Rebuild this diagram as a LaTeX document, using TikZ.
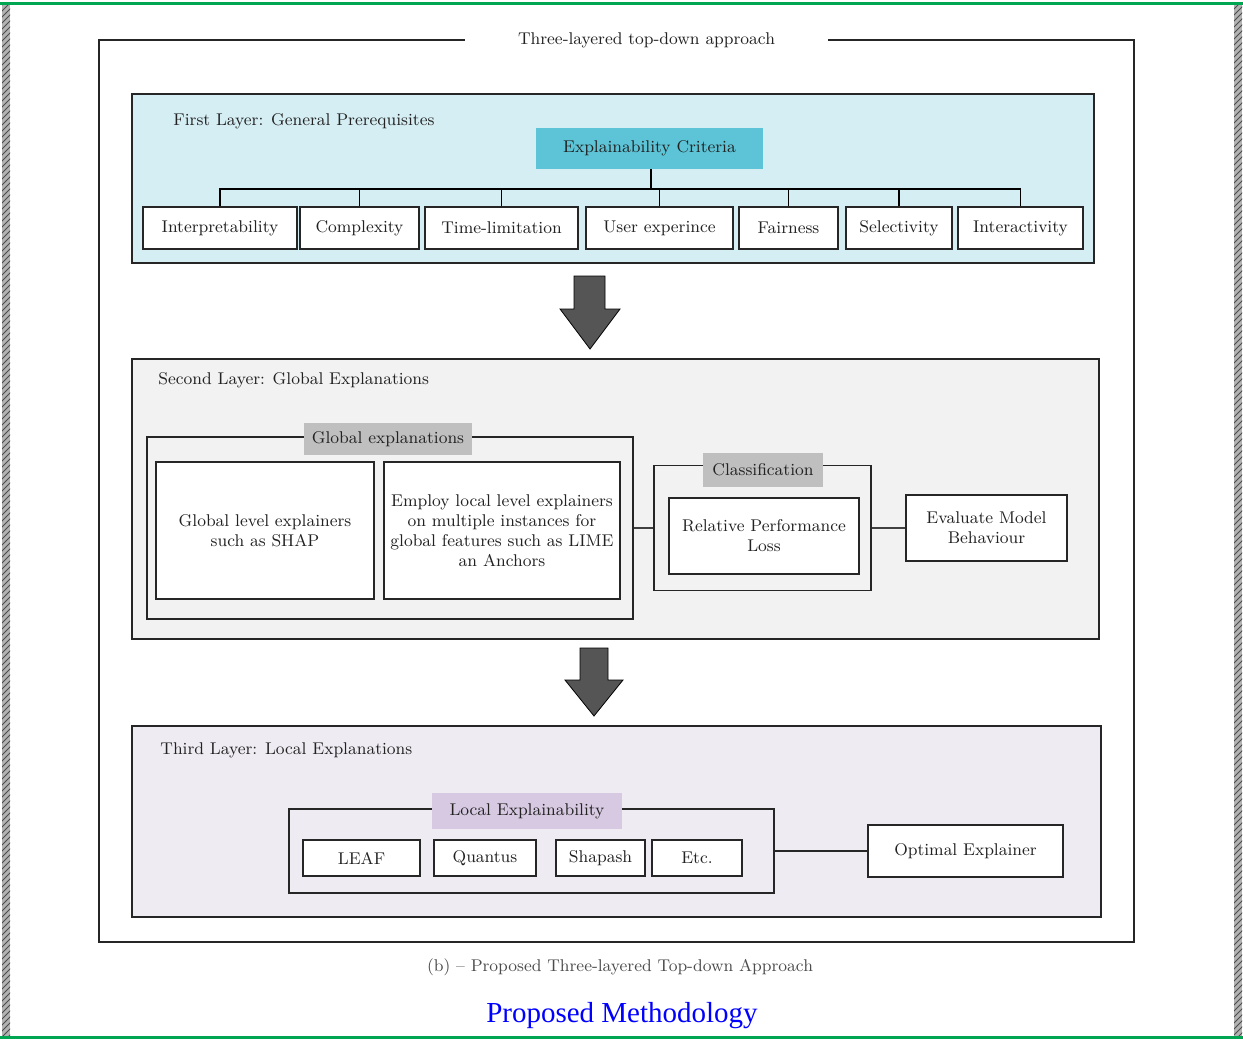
\documentclass[tikz,border=0pt]{standalone}
\usepackage{fontspec}
\newfontfamily\timesfont{Liberation Serif}
\usepackage{tikz}
\usetikzlibrary{patterns}

\definecolor{layerone}{HTML}{D5EEF3}
\definecolor{critfill}{HTML}{5CC4D6}
\definecolor{layertwo}{HTML}{F2F2F2}
\definecolor{tagfill}{HTML}{BFBFBF}
\definecolor{layerthree}{HTML}{EFEBF2}
\definecolor{localfill}{HTML}{D6C9E1}
\definecolor{inkgray}{HTML}{222222}
\definecolor{framegreen}{HTML}{00A651}
\definecolor{arrowgray}{HTML}{555555}

\tikzset{
  txt/.style={font=\fontsize{8.5}{10}\selectfont, text=inkgray},
  box/.style={txt, draw=black!85, line width=0.75pt, fill=white, align=center, inner sep=1pt},
  crit/.style={box, minimum height=21pt},
  tag/.style={txt, inner sep=0pt, align=center},
  group/.style={draw=black!85, line width=0.75pt, inner sep=0pt},
  layer/.style={draw=black!85, line width=0.8pt},
  blockarrow/.style={fill=arrowgray},
  hatchstrip/.style={fill=black!30, postaction={pattern=north east lines, pattern color=black!70}},
}

\begin{document}
\begin{tikzpicture}[x=0.5pt, y=-0.5pt]

  \useasboundingbox (0,0) rectangle (1243,1039);

  % page edges
  \fill[hatchstrip] (2,4) rectangle (10,1036);
  \fill[hatchstrip] (1234,4) rectangle (1242,1036);
  \draw[framegreen, line width=1.5pt] (0,3) -- (1243,3);
  \draw[framegreen, line width=1.5pt] (0,1037) -- (1243,1037);

  % outer frame with its title
  \node[txt, minimum width=181.5pt, minimum height=10pt, inner sep=0pt] (title) at (646.5,40) {Three-layered top-down approach};
  \draw[line width=0.8pt, black!85] (title.west) -| (99,942) -| (1134,40) -- (title.east);

  %% first layer
  \draw[layer, fill=layerone] (132,94) rectangle (1094,263);
  \node[txt, anchor=west, inner sep=0pt] (firstlbl) at (173,121) {First Layer: General Prerequisites};
  \node[txt, fill=critfill, minimum width=113.5pt, minimum height=20.5pt, inner sep=0pt] (criteria) at (649.5,148.5) {Explainability Criteria};

  \node[crit, minimum width=77pt]   (interp)   at (220,228)    {Interpretability};
  \node[crit, minimum width=59.5pt] (complex)  at (359.5,228)  {Complexity};
  \node[crit, minimum width=76.5pt] (timelim)  at (501.5,228)  {Time-limitation};
  \node[crit, minimum width=73.5pt] (userexp)  at (659.5,228)  {User experince};
  \node[crit, minimum width=49.5pt] (fair)     at (788.5,228)  {Fairness};
  \node[crit, minimum width=53pt]   (select)   at (899,228)    {Selectivity};
  \node[crit, minimum width=62.5pt] (interact) at (1020.5,228) {Interactivity};

  \coordinate (bus) at (651,189);
  \draw[line width=0.8pt] (criteria.south -| bus) -- (bus);
  \foreach \n in {interp,complex,timelim,userexp,fair,select,interact}
    \draw[line width=0.8pt] (\n.north) |- (bus);

  \draw[blockarrow] (574,276) -- (605,276) -- (605,309) -- (620,309) -- (590,349) -- (560,309) -- (574,309) -- cycle;

  %% second layer
  \draw[layer, fill=layertwo] (132,359) rectangle (1099,639);
  \node[txt, anchor=west, inner sep=0pt] (secondlbl) at (158,380) {Second Layer: Global Explanations};

  \node[group, minimum width=243pt, minimum height=91pt] (globgrp) at (390,528) {};
  \node[tag, fill=tagfill, minimum width=84pt, minimum height=16pt] (globlbl) at (388,439) {Global explanations};
  \node[box, minimum width=109pt, minimum height=68.5pt] (globa) at (265,530.5) {Global level explainers\\such as SHAP};
  \node[box, minimum width=118pt, minimum height=68.5pt] (globb) at (502,530.5) {Employ local level explainers\\on multiple instances for\\global features such as LIME\\an Anchors};

  \node[group, minimum width=108.5pt, minimum height=62.5pt] (clsgrp) at (762.5,528) {};
  \node[tag, fill=tagfill, minimum width=60pt, minimum height=17pt] (clslbl) at (763,470) {Classification};
  \node[box, minimum width=95pt, minimum height=38pt] (relperf) at (764,536) {Relative Performance\\Loss};

  \node[box, minimum width=80.5pt, minimum height=33pt] (evaluate) at (986.5,528) {Evaluate Model\\Behaviour};

  \draw[line width=0.6pt, black!75] (globgrp.east) -- (clsgrp.west);
  \draw[line width=0.6pt, black!75] (clsgrp.east) -- (evaluate.west);

  \draw[blockarrow] (580,648) -- (608,648) -- (608,680) -- (623,680) -- (594,716) -- (565,680) -- (580,680) -- cycle;

  %% third layer
  \draw[layer, fill=layerthree] (132,726) rectangle (1101,917);
  \node[txt, anchor=west, inner sep=0pt] (thirdlbl) at (160,750) {Third Layer: Local Explanations};

  \node[group, minimum width=242.5pt, minimum height=42pt] (localgrp) at (531.5,851) {};
  \node[tag, fill=localfill, minimum width=95pt, minimum height=18pt] (locallbl) at (527,811) {Local Explainability};
  \node[box, minimum width=58.5pt, minimum height=18pt] (leaf)    at (361.5,858) {LEAF};
  \node[box, minimum width=51pt,   minimum height=18pt] (quantus) at (485,858)   {Quantus};
  \node[box, minimum width=44.5pt, minimum height=18pt] (shapash) at (600.5,858) {Shapash};
  \node[box, minimum width=45pt,   minimum height=18pt] (etc)     at (697,858)   {Etc.};

  \node[box, minimum width=97.5pt, minimum height=26pt] (optimal) at (965.5,851) {Optimal Explainer};
  \draw[line width=0.75pt, black!85] (localgrp.east) -- (optimal.west);

  % captions
  \node[txt, text=black!70] (caption) at (620,967) {(b) -- Proposed Three-layered Top-down Approach};
  \node[font=\timesfont\fontsize{14.5}{16}\selectfont, text=blue] (heading) at (622,1016) {Proposed Methodology};

\end{tikzpicture}
\end{document}
